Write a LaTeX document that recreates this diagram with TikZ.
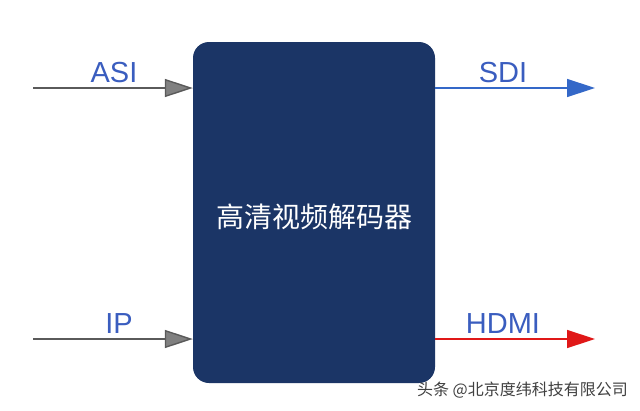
\documentclass[tikz,border=0pt]{standalone}
\usepackage{fontspec}
\setmainfont{Liberation Sans}
\newfontfamily\cjk{Noto Sans CJK SC}
\usetikzlibrary{arrows.meta}
\definecolor{navy}{HTML}{1B3566}
\definecolor{lblue}{HTML}{3A5DBF}
\definecolor{sdiblue}{HTML}{3468C8}
\definecolor{arrgray}{HTML}{808080}
\definecolor{hred}{HTML}{E01818}
\begin{document}
\begin{tikzpicture}[x=1pt,y=-1pt,
  lbl/.style={text=lblue,font=\fontsize{29}{29}\selectfont,inner sep=0pt,anchor=base},
  conn/.style={line width=1.4pt,-{Triangle[length=28pt,width=18pt]}}]
\useasboundingbox (0,0) rectangle (640,410);
\fill[white] (0,0) rectangle (640,410);
\node[fill=navy,rounded corners=16pt,minimum width=242pt,minimum height=341pt,inner sep=0pt] (dec) at (314,212.5) {};
\node[text=white,font=\cjk\fontsize{28}{28}\selectfont,inner sep=0pt] (t) at (314,217) {高清视频解码器};
\coordinate (asiS) at (33,88);
\coordinate (ipS) at (33,339);
\coordinate (sdiE) at (595,88);
\coordinate (hdmiE) at (595,339);
\draw[conn,draw=arrgray!70!black,-{Triangle[length=28pt,width=18pt,fill=arrgray]}] (asiS) -- (asiS -| dec.west);
\draw[conn,draw=arrgray!70!black,-{Triangle[length=28pt,width=18pt,fill=arrgray]}] (ipS) -- (ipS -| dec.west);
\draw[conn,draw=sdiblue] (sdiE -| dec.east) -- (sdiE);
\draw[conn,draw=hred] (hdmiE -| dec.east) -- (hdmiE);
\node[lbl] (asi) at (114,82) {ASI};
\node[lbl] (ip) at (119,333) {IP};
\node[lbl] (sdi) at (503,82) {SDI};
\node[lbl] (hdmi) at (503,333) {HDMI};
\node[text=black!75,font=\cjk\fontsize{16}{16}\selectfont,inner sep=0pt,anchor=east] (wm) at (628,390) {头条 @北京度纬科技有限公司};
\end{tikzpicture}
\end{document}
